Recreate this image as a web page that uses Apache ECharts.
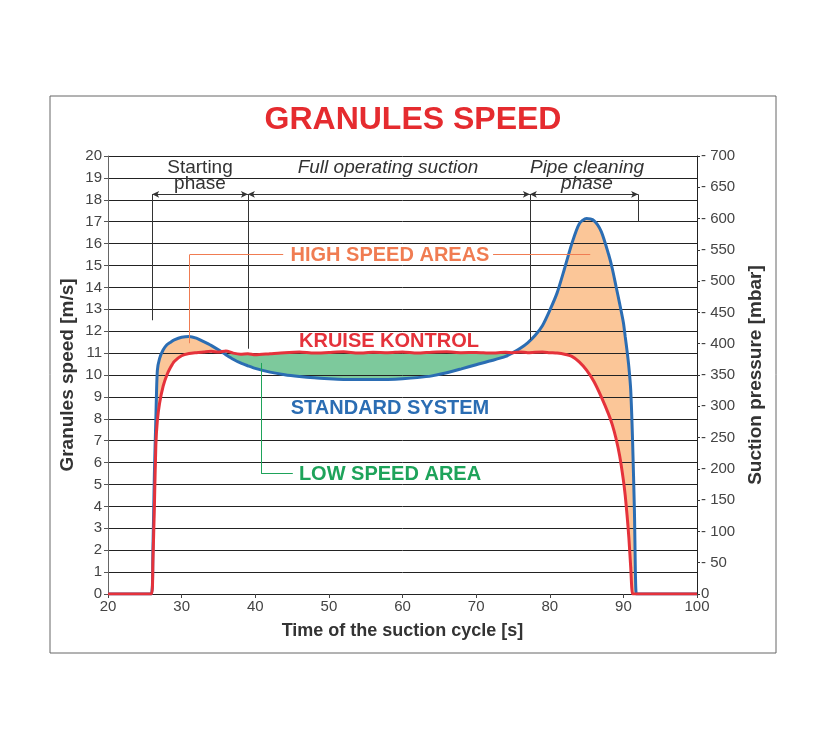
<!DOCTYPE html>
<html>
<head>
<meta charset="utf-8">
<script src="https://cdn.jsdelivr.net/npm/echarts@6/dist/echarts.min.js"></script>
<style>html,body{margin:0;padding:0;background:#fff;}#c{width:830px;height:750px;}</style>
</head>
<body>
<div id="c"></div>
<script>
// ---- data ----
var times = [20, 25.9, 26.1, 26.3, 26.5, 26.7, 27, 27.5, 28, 28.5, 29, 30, 31, 32, 33, 34, 35, 36, 37, 38, 39, 40, 42, 44, 46, 48, 50, 52, 54, 56, 58, 60, 62, 64, 66, 68, 70, 72, 74, 75, 76, 77, 78, 79, 80, 81, 82, 83, 84, 85, 86, 87, 88, 88.5, 89, 89.5, 90, 90.25, 90.5, 90.75, 91, 91.25, 91.5, 91.75, 92, 100];
var standardSystem = [0, 0, 2.0, 5.5, 8.0, 10.2, 10.75, 11.15, 11.38, 11.5, 11.6, 11.72, 11.76, 11.68, 11.52, 11.35, 11.15, 10.93, 10.72, 10.55, 10.42, 10.3, 10.13, 10.01, 9.93, 9.87, 9.83, 9.8, 9.79, 9.79, 9.8, 9.83, 9.88, 9.96, 10.1, 10.28, 10.47, 10.65, 10.85, 11.02, 11.22, 11.47, 11.8, 12.25, 12.95, 13.75, 14.85, 16.0, 16.9, 17.15, 17.05, 16.55, 15.5, 14.85, 14.05, 13.25, 12.4, 11.75, 11.1, 10.35, 9.3, 7.0, 3.8, 0, 0, 0];
var kruiseKontrol = [0, 0, 1.5, 4.0, 6.8, 7.9, 8.7, 9.5, 10.0, 10.35, 10.62, 10.88, 10.98, 11.02, 11.05, 11.08, 11.05, 11.1, 11.0, 10.95, 10.97, 10.92, 10.97, 11.02, 11.05, 11.0, 11.03, 11.06, 11.0, 11.04, 11.02, 11.05, 11.0, 11.04, 11.06, 11.02, 11.03, 11.0, 11.04, 11.02, 11.05, 11.02, 11.04, 11.05, 11.02, 11.0, 10.95, 10.85, 10.6, 10.22, 9.7, 9.0, 8.2, 7.72, 7.1, 6.3, 5.2, 4.5, 3.6, 2.55, 1.2, 0, 0, 0, 0, 0];
var xTicks = {min: 20, max: 100, step: 10};
var speedTicks = {min: 0, max: 20, step: 1};
var pressureTicks = {min: 0, max: 700, step: 50};
var phaseNames = ['Starting\nphase', 'Full operating suction', 'Pipe cleaning\nphase'];
var phaseBounds = [26, 39, 77.3, 92];
var phaseLineEnds = [12.5, 11.2, 11.6, 17.0];
var phaseArrowLevel = 18.25;

// ---- derived: regions between the two curves ----
function pairs(ys) { return times.map(function (t, i) { return [t, ys[i]]; }); }
var d = times.map(function (t, i) { return standardSystem[i] - kruiseKontrol[i]; });
function sgn(v) { return v > 1e-9 ? 1 : (v < -1e-9 ? -1 : 0); }
function crossPt(i) {
  var f = d[i] / (d[i] - d[i + 1]);
  return [times[i] + (times[i + 1] - times[i]) * f, kruiseKontrol[i] + (kruiseKontrol[i + 1] - kruiseKontrol[i]) * f];
}
var regions = [], cur = null;
for (var i = 0; i < times.length; i++) {
  var s = sgn(d[i]);
  if (cur && s !== cur.kind) {
    if (s === 0) { cur.up.push([times[i], standardSystem[i]]); cur.lo.push([times[i], kruiseKontrol[i]]); }
    else { var c = crossPt(i - 1); cur.up.push(c); cur.lo.push(c); }
    regions.push(cur); cur = null;
  }
  if (s !== 0 && !cur) {
    cur = {kind: s, up: [], lo: []};
    if (i > 0) {
      if (sgn(d[i - 1]) === 0) { cur.up.push([times[i - 1], standardSystem[i - 1]]); cur.lo.push([times[i - 1], kruiseKontrol[i - 1]]); }
      else { var c2 = crossPt(i - 1); cur.up.push(c2); cur.lo.push(c2); }
    }
  }
  if (cur) { cur.up.push([times[i], standardSystem[i]]); cur.lo.push([times[i], kruiseKontrol[i]]); }
}
if (cur) regions.push(cur);

var BLUE = '#2b6db3', RED = '#e5323b', ORANGE_TXT = '#f07c52', ORANGE_FILL = '#fbc698', GREEN_TXT = '#1ea35a', GREEN_FILL = '#7dc99c';
var SM = 0.25;

var markLines = [];
function seg(a, b, color, arrows) {
  var sym = arrows ? 'arrow' : 'none';
  markLines.push([{coord: a, symbol: sym, symbolSize: [5, 7], lineStyle: {color: color, width: 1, type: 'solid'}}, {coord: b, symbol: sym, symbolSize: [5, 7]}]);
}
for (var k = 0; k < phaseBounds.length - 1; k++) {
  seg([phaseBounds[k], phaseArrowLevel], [phaseBounds[k + 1], phaseArrowLevel], '#333', true);
}
for (var j = 0; j < phaseBounds.length; j++) {
  seg([phaseBounds[j], phaseArrowLevel], [phaseBounds[j], phaseLineEnds[j]], '#333', false);
}
// leaders
seg([31.1, 11.45], [31.1, 15.5], ORANGE_TXT, false);
seg([31.1, 15.5], [43.8, 15.5], ORANGE_TXT, false);
seg([72.3, 15.5], [85.5, 15.5], ORANGE_TXT, false);
seg([40.8, 10.55], [40.8, 5.5], GREEN_TXT, false);
seg([40.8, 5.5], [45.1, 5.5], GREEN_TXT, false);

var chart = echarts.init(document.getElementById('c'), null, {renderer: 'canvas'});
var axisLabelFont = {fontFamily: 'Liberation Sans', fontSize: 15, color: '#444'};
var nameFont = {fontFamily: 'Liberation Sans', fontSize: 19, fontWeight: 'bold', color: '#333'};

function txt(text, x, y, font, fill, lh) {
  return {type: 'text', silent: true, z: 100, style: {text: text, x: x, y: y, font: font, fill: fill, align: 'center', verticalAlign: 'middle', lineHeight: lh || 16}};
}

chart.setOption({
  animation: false,
  backgroundColor: '#fff',
  grid: {left: 108, right: 133, top: 156, bottom: 156},
  xAxis: {
    type: 'value', min: xTicks.min, max: xTicks.max, interval: xTicks.step,
    axisLine: {show: true, lineStyle: {color: '#222', width: 1}},
    axisTick: {show: true, length: 4, lineStyle: {color: '#444'}},
    axisLabel: Object.assign({margin: 5}, axisLabelFont),
    splitLine: {show: false},
    name: 'Time of the suction cycle [s]', nameLocation: 'middle', nameGap: 28, nameMoveOverlap: false, nameTextStyle: Object.assign({}, nameFont, {fontSize: 18})
  },
  yAxis: [{
    type: 'value', min: speedTicks.min, max: speedTicks.max, interval: speedTicks.step, position: 'left',
    axisLine: {show: true, lineStyle: {color: '#666', width: 1}},
    axisTick: {show: true, length: 4, lineStyle: {color: '#555'}},
    axisLabel: Object.assign({margin: 6}, axisLabelFont),
    splitLine: {show: true, lineStyle: {color: '#222', width: 1}},
    name: 'Granules speed [m/s]', nameLocation: 'middle', nameGap: 31, nameMoveOverlap: false, nameTextStyle: nameFont
  }, {
    type: 'value', min: pressureTicks.min, max: pressureTicks.max, interval: pressureTicks.step, position: 'right',
    axisLine: {show: true, lineStyle: {color: '#222', width: 1}},
    axisTick: {show: true, length: 3, lineStyle: {color: '#333'}},
    axisLabel: Object.assign({margin: 4, formatter: function (v) { return v === 0 ? '0' : '- ' + v; }}, axisLabelFont),
    splitLine: {show: false},
    name: 'Suction pressure [mbar]', nameLocation: 'middle', nameGap: 49, nameMoveOverlap: false, nameTextStyle: nameFont
  }],
  series: [
    {type: 'custom', name: 'areas', silent: true, z: -1,
      data: regions.map(function (r) { return [r.up[0][0], 0]; }),
      encode: {x: 0, y: 1},
      renderItem: function (params, api) {
        var r = regions[params.dataIndex];
        var pts = r.up.concat(r.lo.slice().reverse()).map(function (p) { return api.coord(p); });
        return {type: 'polygon', shape: {points: pts}, style: {fill: r.kind > 0 ? ORANGE_FILL : GREEN_FILL}};
      }
    },
    {type: 'line', name: 'STANDARD SYSTEM', data: pairs(standardSystem), showSymbol: false, smooth: SM, lineStyle: {color: BLUE, width: 3}, z: 3},
    {type: 'line', name: 'KRUISE KONTROL', data: pairs(kruiseKontrol), showSymbol: false, smooth: SM, lineStyle: {color: RED, width: 3}, z: 4,
      markLine: {silent: true, animation: false, label: {show: false}, symbol: 'none', data: markLines}}
  ],
  graphic: [
    {type: 'rect', silent: true, shape: {x: 50, y: 96, width: 726, height: 557}, style: {fill: 'none', stroke: '#666', lineWidth: 1}},
    txt('GRANULES SPEED', 413, 120, 'bold 32px "Liberation Sans"', '#e52b2f'),
    txt(phaseNames[0], 200, 176, '19px "Liberation Sans"', '#333'),
    txt(phaseNames[1], 388, 168, 'italic 19px "Liberation Sans"', '#333'),
    txt(phaseNames[2], 587, 176, 'italic 19px "Liberation Sans"', '#333'),
    txt('HIGH SPEED AREAS', 390, 255, 'bold 20px "Liberation Sans"', ORANGE_TXT),
    txt('KRUISE KONTROL', 389, 341, 'bold 20px "Liberation Sans"', RED),
    txt('STANDARD SYSTEM', 390, 408, 'bold 20px "Liberation Sans"', BLUE),
    txt('LOW SPEED AREA', 390, 474, 'bold 20px "Liberation Sans"', GREEN_TXT)
  ]
});
</script>
</body>
</html>
